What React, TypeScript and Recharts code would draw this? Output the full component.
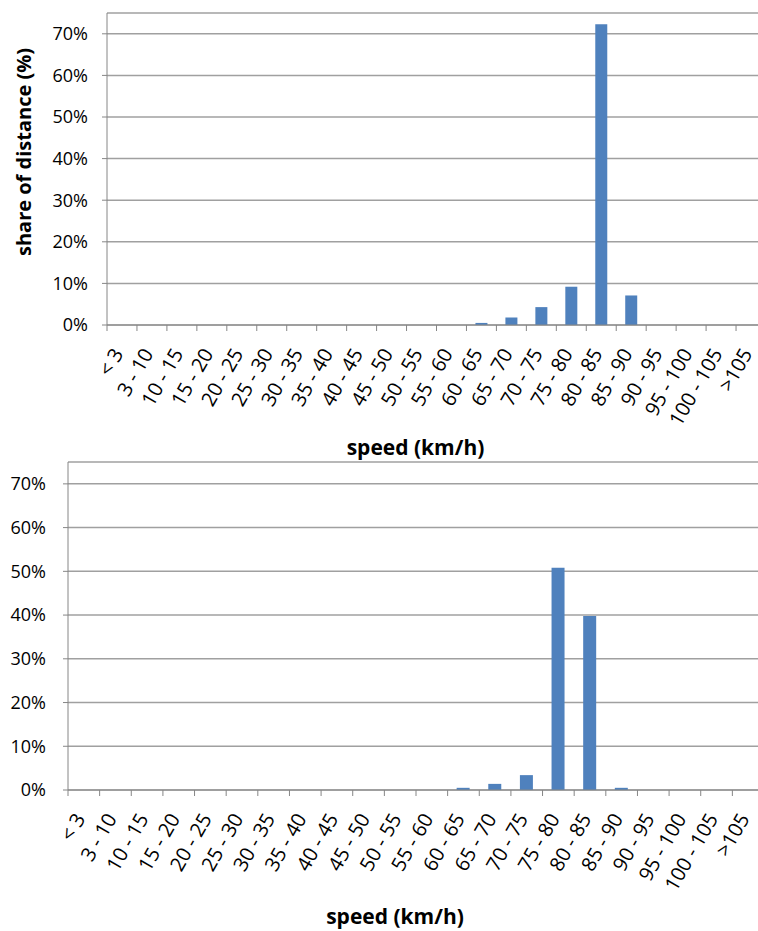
import { Bar, BarChart, CartesianGrid, XAxis, YAxis } from "recharts";

const speedBins = [
  "< 3",
  "3 - 10",
  "10 - 15",
  "15 - 20",
  "20 - 25",
  "25 - 30",
  "30 - 35",
  "35 - 40",
  "40 - 45",
  "45 - 50",
  "50 - 55",
  "55 - 60",
  "60 - 65",
  "65 - 70",
  "70 - 75",
  "75 - 80",
  "80 - 85",
  "85 - 90",
  "90 - 95",
  "95 - 100",
  "100 - 105",
  ">105",
];

// share of distance (%) per speed bin
const shareTop = [0, 0, 0, 0, 0, 0, 0, 0, 0, 0, 0, 0, 0.5, 1.8, 4.3, 9.2, 72.3, 7.1, 0, 0, 0, 0];
const shareBottom = [0, 0, 0, 0, 0, 0, 0, 0, 0, 0, 0, 0, 0.5, 1.4, 3.4, 50.8, 39.8, 0.5, 0, 0, 0, 0];

const yTicks = [0, 10, 20, 30, 40, 50, 60, 70];

const barBlue = "#4f81bd";
const axisGray = "#868686";
const gridGray = "#a0a0a0";
const font = "'Open Sans', sans-serif";

const topData = speedBins.map((bin, i) => ({ bin, share: shareTop[i] }));
const bottomData = speedBins.map((bin, i) => ({ bin, share: shareBottom[i] }));

const labelGap = 25;

function SpeedTick(props: any) {
  const { x, y, payload, last } = props;
  const half = payload?.offset ?? 15;
  const axisY = y - labelGap;
  return (
    <g>
      <line x1={x - half} x2={x - half} y1={axisY} y2={axisY + 6} stroke={axisGray} />
      {payload.index === last && (
        <line x1={x + half} x2={x + half} y1={axisY} y2={axisY + 6} stroke={axisGray} />
      )}
      <g transform={`translate(${x - 4},${y})`}>
        <text
          x={0}
          y={0}
          dy="0.35em"
          textAnchor="end"
          transform="rotate(-60)"
          fontSize={20}
          fontFamily={font}
          fill="#000"
        >
          {payload.value}
        </text>
      </g>
    </g>
  );
}

function SpeedChart({
  data,
  yWidth,
  yMargin,
  top,
  bottom,
  right,
  height,
  barSize,
  yTitle,
  titleY,
}: {
  data: { bin: string; share: number }[];
  yWidth: number;
  yMargin: number;
  top: number;
  bottom: number;
  right: number;
  height: number;
  barSize: number;
  yTitle?: boolean;
  titleY: number;
}) {
  return (
    <BarChart width={800} height={height} data={data} margin={{ top, right, left: 0, bottom }}>
      <CartesianGrid stroke={gridGray} strokeWidth={1.5} vertical={false} />
      <XAxis
        dataKey="bin"
        interval={0}
        height={130}
        stroke={axisGray}
        tickLine={false}
        tickSize={0}
        tickMargin={labelGap}
        tick={<SpeedTick last={speedBins.length - 1} />}
        label={{
          content: (p: any) => (
            <text
              x={p.viewBox.x + p.viewBox.width / 2 - 21}
              y={titleY}
              textAnchor="middle"
              fontSize={21}
              fontWeight="bold"
              fontFamily={font}
              fill="#000"
            >
              speed (km/h)
            </text>
          ),
        }}
      />
      <YAxis
        width={yWidth}
        domain={[0, 75]}
        ticks={yTicks}
        tickFormatter={(v) => `${v}%`}
        stroke={axisGray}
        tickSize={5}
        tickMargin={yMargin}
        tick={{ fill: "#000", fontSize: 18, fontFamily: font }}
        label={
          yTitle
            ? {
                content: () => (
                  <text
                    x={31}
                    y={152}
                    transform="rotate(-90, 31, 152)"
                    textAnchor="middle"
                    fontSize={20}
                    fontWeight="bold"
                    fontFamily={font}
                    fill="#000"
                  >
                    share of distance (%)
                  </text>
                ),
              }
            : undefined
        }
      />
      <Bar dataKey="share" fill={barBlue} barSize={barSize} isAnimationActive={false} />
    </BarChart>
  );
}

export default function App() {
  return (
    <div
      style={{
        position: "absolute",
        left: 0,
        top: 0,
        width: 758,
        height: 931,
        overflow: "hidden",
        background: "#fff",
      }}
    >
      <div style={{ position: "absolute", left: 0, top: 0 }}>
        <SpeedChart
          data={topData}
          yWidth={107}
          yMargin={14}
          top={13}
          bottom={5}
          right={34}
          height={460}
          barSize={12}
          yTitle
          titleY={455}
        />
      </div>
      <div style={{ position: "absolute", left: 0, top: 455 }}>
        <SpeedChart
          data={bottomData}
          yWidth={68}
          yMargin={17}
          top={7}
          bottom={25}
          right={36}
          height={490}
          barSize={13}
          titleY={469}
        />
      </div>
    </div>
  );
}
